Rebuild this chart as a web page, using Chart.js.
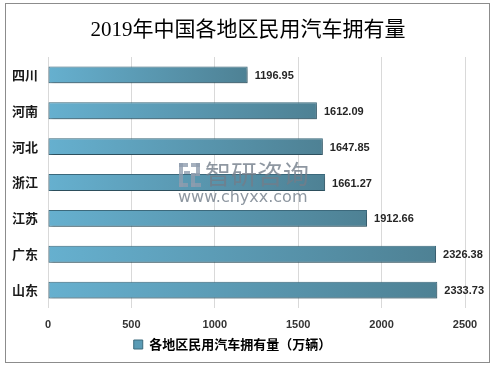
<!DOCTYPE html>
<html>
<head>
<meta charset="utf-8">
<script src="https://cdn.jsdelivr.net/npm/chart.js@4"></script>
<style>
  html, body { margin: 0; padding: 0; background: #fff; }
  #wrap { width: 494px; height: 367px; position: relative; }
</style>
</head>
<body>
<div id="wrap"><canvas id="chart" width="494" height="367"></canvas></div>
<script>
// chart data
const provinces = ['四川', '河南', '河北', '浙江', '江苏', '广东', '山东'];
const carCounts = [1196.95, 1612.09, 1647.85, 1661.27, 1912.66, 2326.38, 2333.73];
const xTicks = [0, 500, 1000, 1500, 2000, 2500];
const seriesName = '各地区民用汽车拥有量（万辆）';
const titleText = '2019年中国各地区民用汽车拥有量';

const cjk = '"Noto Sans CJK SC", "Noto Sans", sans-serif';

// gradient per bar, light on the left to dark on the right
const barFill = (c) => {
    const chart = c.chart;
    const area = chart.chartArea;
    if (!area) return '#5b9db8';
    const x = chart.scales.x;
    const end = c.raw != null ? x.getPixelForValue(c.raw) : area.right;
    const g = chart.ctx.createLinearGradient(area.left, 0, Math.max(end, area.left + 1), 0);
    g.addColorStop(0, '#66b0cf');
    g.addColorStop(1, '#4e8194');
    return g;
};

// frame, title, watermark, bar shadow and value labels
const decor = {
    id: 'decor',
    beforeDraw(chart) {
        const ctx = chart.ctx;
        ctx.save();
        ctx.fillStyle = '#fff';
        ctx.fillRect(0, 0, chart.width, chart.height);
        ctx.strokeStyle = '#8c8c8c';
        ctx.lineWidth = 1;
        ctx.strokeRect(5.5, 3.5, 484, 359);
        ctx.fillStyle = '#000';
        ctx.font = '21px "Liberation Serif", "Noto Sans CJK SC", serif';
        ctx.textAlign = 'center';
        ctx.textBaseline = 'middle';
        ctx.fillText(titleText, 248, 30);
        ctx.restore();
    },
    beforeDatasetsDraw(chart) {
        const ctx = chart.ctx;
        ctx.save();
        ctx.shadowColor = 'rgba(0,0,0,0.35)';
        ctx.shadowOffsetX = 1;
        ctx.shadowOffsetY = 2;
        ctx.shadowBlur = 3;
    },
    afterDatasetsDraw(chart) {
        const ctx = chart.ctx;
        ctx.restore();
        ctx.save();
        // watermark
        ctx.globalAlpha = 0.8;
        ctx.fillStyle = '#8e9cae';
        ctx.fillRect(179, 163, 9, 4);
        ctx.fillRect(179, 163, 4, 24);
        ctx.fillRect(184, 171, 6, 3);
        ctx.fillRect(179, 183, 9, 4);
        ctx.fillRect(191, 163, 9, 4);
        ctx.fillRect(196, 163, 4, 13);
        ctx.fillRect(191, 173, 9, 3);
        ctx.fillRect(191, 173, 4, 14);
        ctx.fillRect(191, 183, 10, 4);
        ctx.fillStyle = '#727d8a';
        ctx.font = '26px ' + cjk;
        ctx.textBaseline = 'middle';
        ctx.textAlign = 'left';
        ctx.fillText('智研咨询', 205, 174);
        ctx.font = '16px "DejaVu Sans", sans-serif';
        ctx.fillText('www.chyxx.com', 178, 198);
        ctx.restore();

        // value labels
        ctx.save();
        ctx.fillStyle = '#262626';
        ctx.font = 'bold 11px "Liberation Sans", "Open Sans", sans-serif';
        ctx.textAlign = 'left';
        ctx.textBaseline = 'middle';
        const meta = chart.getDatasetMeta(0);
        meta.data.forEach((bar, i) => {
            ctx.fillText(carCounts[i].toFixed(2), bar.x + 7, bar.y + 1);
        });
        ctx.restore();
    }
};

new Chart(document.getElementById('chart'), {
    type: 'bar',
    data: {
        labels: provinces,
        datasets: [{
            label: seriesName,
            data: carCounts,
            backgroundColor: barFill,
            borderColor: '#3c6a7d',
            borderWidth: 1,
            borderSkipped: false,
            categoryPercentage: 1,
            barPercentage: 0.47
        }]
    },
    options: {
        indexAxis: 'y',
        responsive: false,
        animation: false,
        layout: { padding: { top: 57, right: 29, left: 0, bottom: 6 } },
        scales: {
            x: {
                min: 0,
                max: 2500,
                afterBuildTicks: (s) => { s.ticks = xTicks.map(v => ({ value: v })); },
                afterFit: (s) => { s.height = 24; },
                grid: { color: '#d9d9d9', drawTicks: false },
                border: { display: false },
                ticks: {
                    padding: 10,
                    color: '#333',
                    callback: (v) => String(v),
                    font: { family: '"Liberation Sans", sans-serif', size: 11, weight: 'bold' }
                }
            },
            y: {
                afterFit: (s) => { s.width = 48; },
                grid: { display: false },
                border: { display: false },
                ticks: {
                    padding: 2,
                    color: '#1a1a1a',
                    font: { family: cjk, size: 13, weight: 'bold' }
                }
            }
        },
        plugins: {
            title: { display: false },
            tooltip: { enabled: false },
            legend: {
                position: 'bottom',
                labels: {
                    boxWidth: 9,
                    boxHeight: 9,
                    padding: 6,
                    color: '#333',
                    font: { family: cjk, size: 13, weight: 'bold' },
                    generateLabels: (chart) => [{
                        text: seriesName,
                        fillStyle: '#5a9bb5',
                        strokeStyle: '#3c6a7d',
                        lineWidth: 1,
                        datasetIndex: 0
                    }]
                }
            }
        }
    },
    plugins: [decor]
});
</script>
</body>
</html>
